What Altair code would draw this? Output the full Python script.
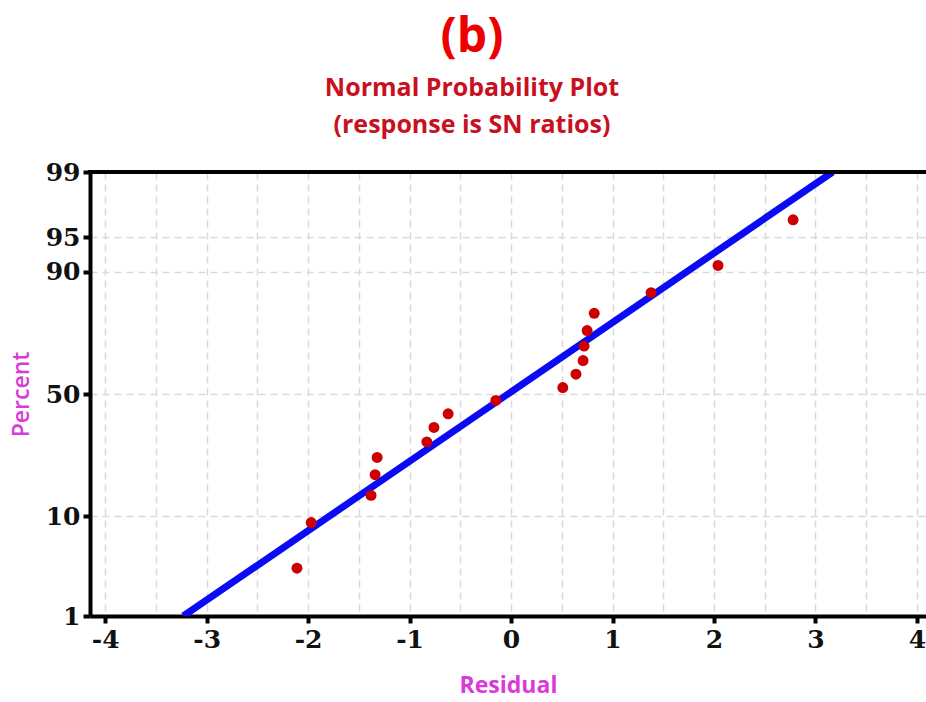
import altair as alt
import pandas as pd
import math

# Residuals and their plotting percentages
residual = [-2.11, -1.97, -1.38, -1.34, -1.32, -0.83, -0.76, -0.62, -0.15,
            0.51, 0.64, 0.71, 0.72, 0.75, 0.82, 1.38, 2.04, 2.78]
percent = [3.4, 8.9, 14.4, 19.9, 25.3, 30.8, 36.3, 41.8, 47.3,
           52.7, 58.2, 63.7, 69.2, 74.7, 80.1, 85.6, 91.1, 96.6]

# Fitted normal line end points
fit_residual = [-3.23, 3.17]
fit_percent = [1, 99]

# Y tick labels (percent)
y_tick_pct = [1, 10, 50, 90, 95, 99]
x_ticks = [-4, -3.5, -3, -2.5, -2, -1.5, -1, -0.5, 0, 0.5, 1, 1.5, 2, 2.5, 3, 3.5, 4]


def z_of(p):
    # inverse normal CDF via bisection on erf (axis tick positions)
    lo, hi = -10.0, 10.0
    for _ in range(200):
        mid = (lo + hi) / 2
        if 0.5 * (1 + math.erf(mid / math.sqrt(2))) < p:
            lo = mid
        else:
            hi = mid
    return (lo + hi) / 2


y_tick_z = [z_of(p / 100) for p in y_tick_pct]

pts = pd.DataFrame({"residual": residual, "percent": percent})
fit = pd.DataFrame({"residual": fit_residual, "percent": fit_percent})

label_font = "DejaVu Serif"
title_font = "Open Sans"

x_scale = alt.Scale(domain=[-4.15, 4.09], nice=False, zero=False)
y_scale = alt.Scale(domain=[y_tick_z[0], y_tick_z[-1]], nice=False, zero=False)

x_axis = alt.Axis(
    values=x_ticks,
    labelExpr="datum.value % 1 === 0 ? datum.value : ''",
    title="Residual",
    titleColor="#d93ad9",
    titleFont=title_font,
    titleFontSize=23,
    titleFontWeight="bold",
    titlePadding=22,
    labelFont=label_font,
    labelFontSize=25,
    labelFontWeight="bold",
    labelColor="#111111",
    labelPadding=4,
    tickSize=7,
    tickWidth=4,
    tickColor="black",
    tickOpacity={"condition": {"test": "datum.value % 1 === 0", "value": 1}, "value": 0},
    domainColor="black",
    domainWidth=4,
    grid=True,
    gridColor="#d9d9d9",
    gridDash=[7, 5],
    gridWidth=1.5,
    labelFlush=False,
)

y_axis = alt.Axis(
    values=y_tick_z,
    labelExpr="round(cumulativeNormal(datum.value) * 100)",
    title="Percent",
    titleColor="#d93ad9",
    titleFont=title_font,
    titleFontSize=23,
    titleFontWeight=600,
    titlePadding=12,
    labelFont=label_font,
    labelFontSize=25,
    labelFontWeight="bold",
    labelColor="#111111",
    labelPadding=3,
    tickSize=7,
    tickWidth=4,
    tickColor="black",
    domainColor="black",
    domainWidth=4,
    grid=True,
    gridColor="#d9d9d9",
    gridDash=[7, 5],
    gridWidth=1.5,
    labelFlush=False,
)

line = alt.Chart(fit).transform_calculate(
    z="quantileNormal(datum.percent / 100)"
).mark_line(color="#0a0af5", strokeWidth=7, clip=True).encode(
    x=alt.X("residual:Q", scale=x_scale, axis=x_axis),
    y=alt.Y("z:Q", scale=y_scale, axis=y_axis),
)

points = alt.Chart(pts).transform_calculate(
    z="quantileNormal(datum.percent / 100)"
).mark_circle(color="#cc0000", opacity=1, size=120).encode(
    x=alt.X("residual:Q", scale=x_scale),
    y=alt.Y("z:Q", scale=y_scale),
)

top_border = alt.Chart(fit).mark_rule(color="black", strokeWidth=4).encode(
    x=alt.value(-2), x2=alt.value(840), y=alt.value(0)
)

chart = alt.layer(line, points, top_border).properties(
    width=836,
    height=444,
    autosize=alt.AutoSizeParams(type="none"),
    padding={"left": 90, "top": 172, "right": 0, "bottom": 86},
    title=alt.TitleParams(
        text="(b)",
        subtitle=["Normal Probability Plot", "(response is SN ratios)"],
        font=title_font,
        fontSize=48,
        fontWeight="bold",
        color="#ee0000",
        subtitleFont=title_font,
        subtitleFontSize=25,
        subtitleFontWeight="bold",
        subtitleColor="#c8101e",
        subtitleLineHeight=37,
        subtitlePadding=14,
        anchor="middle",
        dx=-36,
        offset=22,
    ),
).configure_view(stroke=None).configure(background="white")

chart.save("out.html", embed_options={"renderer": "svg", "actions": False})
